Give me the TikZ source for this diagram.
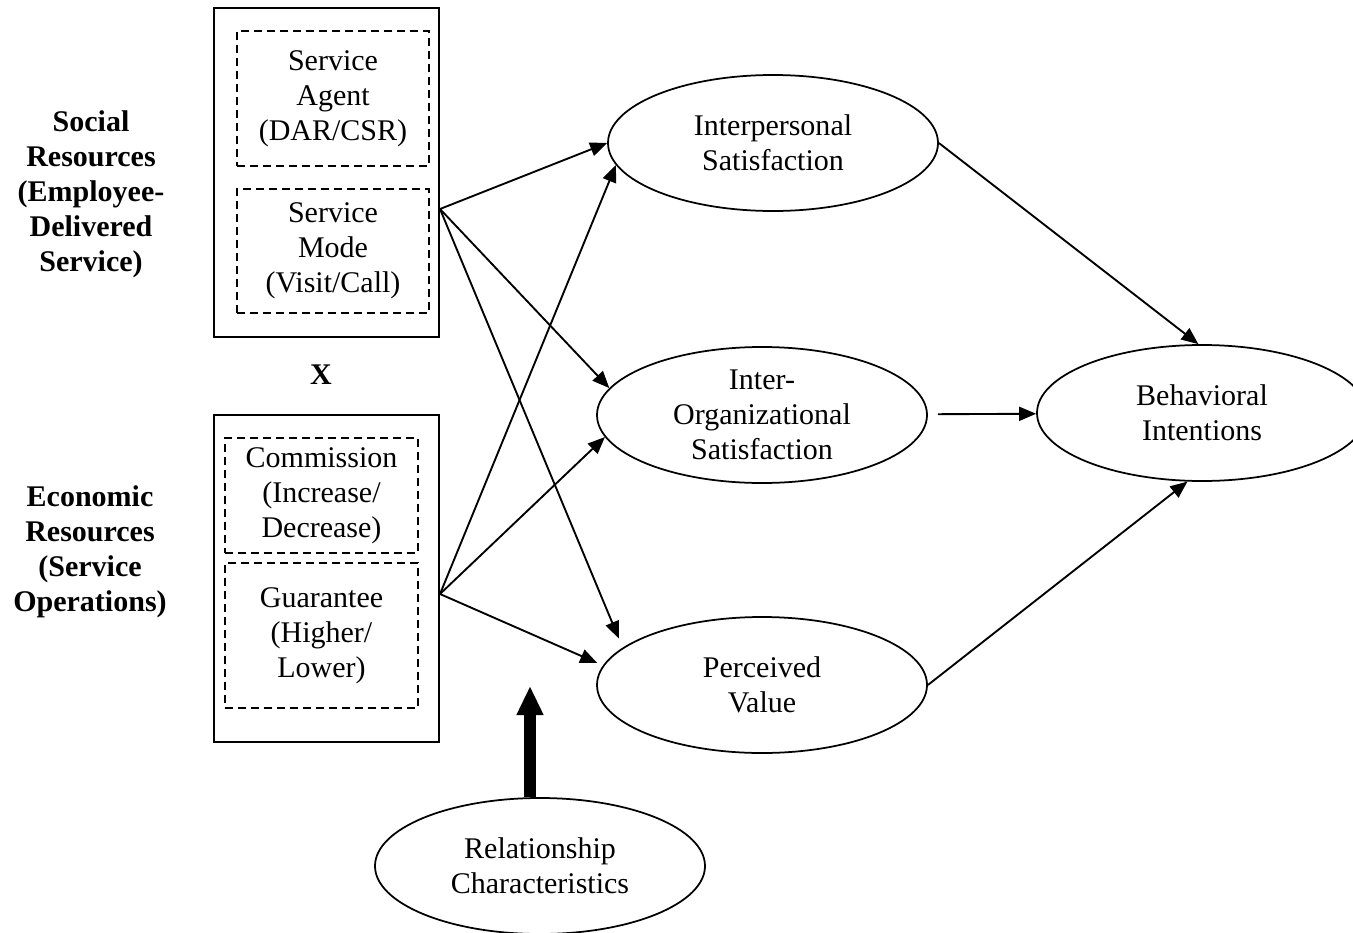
\documentclass[tikz,border=0pt]{standalone}
\usepackage{fontspec}
\setmainfont{Liberation Serif}
\usetikzlibrary{arrows.meta,shapes.geometric}
\newcommand{\diagfont}{\fontsize{12}{14}\selectfont}
\tikzset{
  outerbox/.style={draw, line width=0.8pt, inner sep=0pt},
  factorbox/.style={draw, line width=0.6pt, dash pattern=on 3.2pt off 2pt,
                    inner sep=0pt, align=center, font=\diagfont},
  construct/.style={draw, ellipse, line width=0.7pt, minimum width=132pt,
                    minimum height=54.4pt, inner xsep=0pt, inner ysep=-5pt,
                    align=center, font=\diagfont},
  sidelabel/.style={align=center, font=\diagfont\bfseries},
  patharr/.style={-{Triangle[length=6.8pt,width=5.6pt]}, line width=0.75pt},
  moderarr/.style={-{Triangle[length=11.6pt,width=10pt]}, line width=4.8pt},
}

\begin{document}
\begin{tikzpicture}[x=0.4pt, y=-0.4pt]
  \useasboundingbox (0,0) rectangle (1353,933);
  % --- resource blocks
  \node[outerbox, minimum width=90pt, minimum height=131.6pt] (social) at (326.5,172.5) {};
  \node[factorbox, minimum width=76.8pt, minimum height=54pt] (agent) at (333,98.5)
       {Service\\ Agent\\ (DAR/CSR)};
  \node[factorbox, minimum width=76.8pt, minimum height=49.6pt] (mode) at (333,251)
       {Service\\ Mode\\ (Visit/Call)};
  \node[outerbox, minimum width=90pt, minimum height=130.8pt] (economic) at (326.5,578.5) {};
  \node[factorbox, minimum width=77.2pt, minimum height=46pt] (commission) at (321.5,495.5)
       {Commission\\ (Increase/\\ Decrease)};
  \node[factorbox, minimum width=77.2pt, minimum height=58pt] (guarantee) at (321.5,635.5)
       {Guarantee\\ (Higher/\\ Lower)};
  \node[sidelabel] (sociallab) at (91,194)
       {Social\\ Resources\\ (Employee-\\ Delivered\\ Service)};
  \node[sidelabel] (econlab) at (90,551.5)
       {Economic\\ Resources\\ (Service\\ Operations)};
  \node[sidelabel] (times) at (321,375) {X};
  % --- outcome constructs
  \node[construct] (inter) at (773,143) {Interpersonal\\ Satisfaction};
  \node[construct] (interorg) at (762,415) {Inter-\\ Organizational\\ Satisfaction};
  \node[construct] (value) at (762,685) {Perceived\\ Value};
  \node[construct] (intent) at (1202,413) {Behavioral\\ Intentions};
  \node[construct] (relation) at (540,866) {Relationship\\ Characteristics};
  % --- paths
  \coordinate (s1) at (440,209);
  \coordinate (s2) at (440,594);
  \draw[patharr] (s1) -- (inter.180);
  \draw[patharr] (s1) -- (interorg.170);
  \draw[patharr, shorten >=4pt] (s1) -- (value.165);
  \draw[patharr] (s2) -- (inter.188);
  \draw[patharr] (s2) -- (interorg.188);
  \draw[patharr, shorten >=2.5pt] (s2) -- (value.173);
  \draw[patharr] (inter.east) -- (intent.93);
  \draw[patharr, shorten <=4pt] (interorg) -- (intent);
  \draw[patharr] (value.east) -- (intent.258);
  % --- moderator
  \coordinate (modtip) at (530,686);
  \draw[moderarr] (modtip |- relation.north) -- (modtip);
\end{tikzpicture}
\end{document}
